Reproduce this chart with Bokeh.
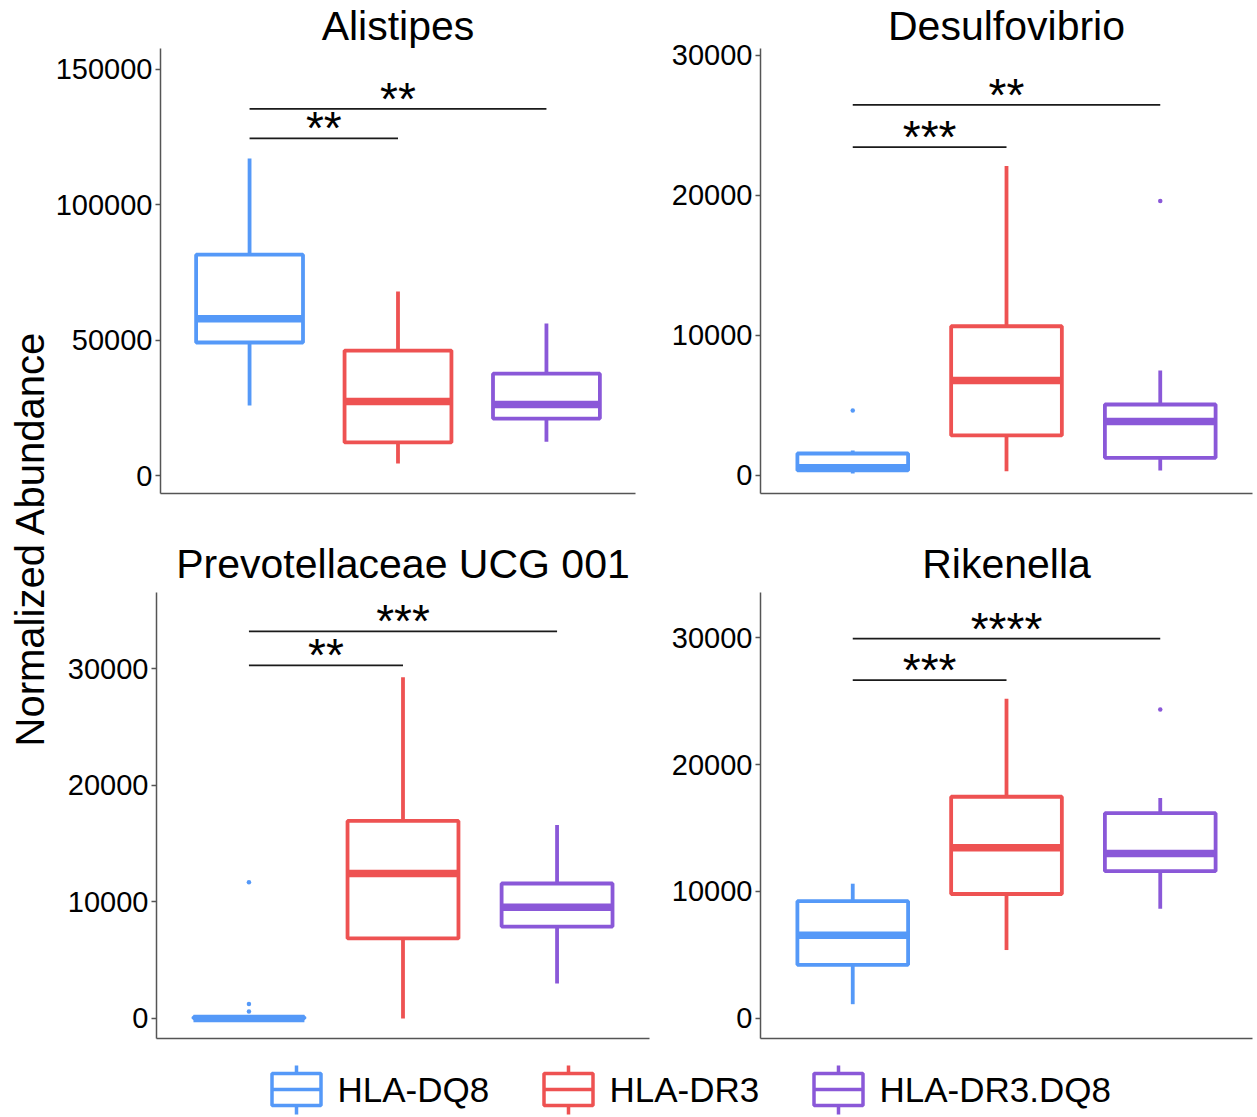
import math
from bokeh.plotting import figure
from bokeh.layouts import row, column
from bokeh.models import Range1d, FixedTicker, BasicTickFormatter, ColumnDataSource
from bokeh.core.properties import value
from bokeh.embed import file_html
from bokeh.resources import INLINE

# ---------------- data ----------------
groups = ["HLA-DQ8", "HLA-DR3", "HLA-DR3.DQ8"]
colors = ["#5599F8", "#EE5252", "#8A58D8"]
group_pos = [1, 2, 3]

titles = ["Alistipes", "Desulfovibrio", "Prevotellaceae UCG 001", "Rikenella"]

alistipes_lower = [25800, 4400, 12500]
alistipes_q1 = [49100, 12200, 21000]
alistipes_median = [57900, 27300, 26200]
alistipes_q3 = [81500, 46100, 37600]
alistipes_upper = [117000, 67900, 56100]
alistipes_outliers = [[], [], []]
alistipes_ticks = [0, 50000, 100000, 150000]
alistipes_yrange = [-6640, 157600]
alistipes_sig = [(1, 2, 124400, "**"), (1, 3, 135300, "**")]

desulfovibrio_lower = [140, 310, 360]
desulfovibrio_q1 = [360, 2860, 1260]
desulfovibrio_median = [550, 6790, 3860]
desulfovibrio_q3 = [1570, 10660, 5070]
desulfovibrio_upper = [1790, 22100, 7500]
desulfovibrio_outliers = [[4640], [], [19600]]
desulfovibrio_ticks = [0, 10000, 20000, 30000]
desulfovibrio_yrange = [-1286, 30500]
desulfovibrio_sig = [(1, 2, 23450, "***"), (1, 3, 26480, "**")]

prevotellaceae_lower = [0, 0, 3010]
prevotellaceae_q1 = [0, 6870, 7880]
prevotellaceae_median = [0, 12430, 9550]
prevotellaceae_q3 = [120, 16950, 11580]
prevotellaceae_upper = [250, 29280, 16590]
prevotellaceae_outliers = [[600, 1250, 11680], [], []]
prevotellaceae_ticks = [0, 10000, 20000, 30000]
prevotellaceae_yrange = [-1720, 36550]
prevotellaceae_sig = [(1, 2, 30290, "**"), (1, 3, 33210, "***")]

rikenella_lower = [1110, 5380, 8630]
rikenella_q1 = [4210, 9800, 11600]
rikenella_median = [6550, 13440, 12990]
rikenella_q3 = [9230, 17465, 16170]
rikenella_upper = [10610, 25190, 17375]
rikenella_outliers = [[], [], [24350]]
rikenella_ticks = [0, 10000, 20000, 30000]
rikenella_yrange = [-1595, 33570]
rikenella_sig = [(1, 2, 26660, "***"), (1, 3, 29940, "****")]

y_label = "Normalized Abundance"

# ---------------- style ----------------
FONT = "Liberation Sans"
BOX_W = 0.72
AXIS_COLOR = "#555555"

panel_data = [
    (alistipes_lower, alistipes_q1, alistipes_median, alistipes_q3, alistipes_upper,
     alistipes_outliers, alistipes_ticks, alistipes_yrange, alistipes_sig),
    (desulfovibrio_lower, desulfovibrio_q1, desulfovibrio_median, desulfovibrio_q3, desulfovibrio_upper,
     desulfovibrio_outliers, desulfovibrio_ticks, desulfovibrio_yrange, desulfovibrio_sig),
    (prevotellaceae_lower, prevotellaceae_q1, prevotellaceae_median, prevotellaceae_q3, prevotellaceae_upper,
     prevotellaceae_outliers, prevotellaceae_ticks, prevotellaceae_yrange, prevotellaceae_sig),
    (rikenella_lower, rikenella_q1, rikenella_median, rikenella_q3, rikenella_upper,
     rikenella_outliers, rikenella_ticks, rikenella_yrange, rikenella_sig),
]

# figure geometry: (width, height, border_left, border_right, border_top, border_bottom, title_standoff)
geometry = [
    (590, 520, 110, 5, 48, 27, 0),
    (617, 520, 120, 5, 48, 27, 0),
    (605, 525, 106, 6, 72, 7, 12),
    (602, 525, 105, 5, 72, 7, 12),
]


def make_panel(title, data, geo):
    lower, q1, med, q3, upper, outl, ticks, yr, sig = data
    w, h, bl, br, bt, bb, stand = geo
    p = figure(width=w, height=h, output_backend="svg", toolbar_location=None,
               x_range=Range1d(0.4, 3.6), y_range=Range1d(yr[0], yr[1]),
               min_border_left=bl, min_border_right=br, min_border_top=bt, min_border_bottom=bb)
    p.title.text = title
    p.title.text_font = FONT
    p.title.text_font_size = "41px"
    p.title.text_font_style = "normal"
    p.title.text_color = "black"
    p.title.align = "center"
    p.title.standoff = stand
    p.outline_line_color = None
    p.xgrid.visible = False
    p.ygrid.visible = False

    src = ColumnDataSource(dict(
        x=group_pos, left=[g - BOX_W / 2 for g in group_pos], right=[g + BOX_W / 2 for g in group_pos],
        lower=lower, q1=q1, med=med, q3=q3, upper=upper, color=colors))
    p.segment(x0="x", y0="q3", x1="x", y1="upper", line_color="color", line_width=3.8, source=src)
    p.segment(x0="x", y0="q1", x1="x", y1="lower", line_color="color", line_width=3.8, source=src)
    p.quad(left="left", right="right", bottom="q1", top="q3", fill_color="white",
           line_color="color", line_width=3.8, source=src)
    p.segment(x0="left", y0="med", x1="right", y1="med", line_color="color", line_width=7.5, source=src)

    ox, oy, oc = [], [], []
    for gx, vals, c in zip(group_pos, outl, colors):
        for v in vals:
            ox.append(gx); oy.append(v); oc.append(c)
    if ox:
        p.scatter(x=ox, y=oy, size=4.5, color=oc, line_color=None)

    # significance brackets
    sx0 = [s[0] for s in sig]; sx1 = [s[1] for s in sig]; sy = [s[2] for s in sig]
    p.segment(x0=sx0, y0=sy, x1=sx1, y1=sy, line_color="#1a1a1a", line_width=1.8)
    p.text(x=[(a + b) / 2 for a, b in zip(sx0, sx1)], y=sy, text=[s[3] for s in sig],
           text_font=value(FONT), text_font_size="46px", text_align="center",
           text_baseline="alphabetic", y_offset=-10, text_color="black")

    # axes
    p.yaxis.ticker = FixedTicker(ticks=ticks)
    p.yaxis.formatter = BasicTickFormatter(use_scientific=False)
    p.yaxis.major_label_text_font = FONT
    p.yaxis.major_label_text_font_size = "29px"
    p.yaxis.major_label_text_color = "black"
    p.yaxis.axis_line_color = AXIS_COLOR
    p.yaxis.axis_line_width = 1.5
    p.yaxis.major_tick_line_color = AXIS_COLOR
    p.yaxis.major_tick_line_width = 1.5
    p.yaxis.major_tick_out = 5
    p.yaxis.major_tick_in = 0
    p.yaxis.minor_tick_line_color = None
    p.yaxis.major_label_standoff = 3

    p.xaxis.ticker = FixedTicker(ticks=[])
    p.xaxis.axis_line_color = AXIS_COLOR
    p.xaxis.axis_line_width = 1.5
    p.xaxis.major_tick_line_color = None
    p.xaxis.minor_tick_line_color = None
    p.xaxis.major_tick_out = 0
    p.xaxis.major_tick_in = 0
    p.xaxis.major_label_standoff = 0
    p.xaxis.major_label_text_font_size = "0px"
    return p


panels = [make_panel(t, d, g) for t, d, g in zip(titles, panel_data, geometry)]

# y label column
ylab = figure(width=50, height=1045, output_backend="svg", toolbar_location=None,
              x_range=Range1d(0, 50), y_range=Range1d(1045, 0),
              x_axis_type=None, y_axis_type=None, min_border=0)
ylab.outline_line_color = None
ylab.grid.visible = False
ylab.text(x=[29], y=[538], text=[y_label], angle=math.pi / 2, text_font=value(FONT),
          text_font_size="40px", text_align="center", text_baseline="middle", text_color="black")

# legend strip
legend_key_x = [296, 568, 838]
legend_y = 44
leg = figure(width=1257, height=72, output_backend="svg", toolbar_location=None,
             x_range=Range1d(0, 1257), y_range=Range1d(72, 0),
             x_axis_type=None, y_axis_type=None, min_border=0)
leg.outline_line_color = None
leg.grid.visible = False
leg.segment(x0=legend_key_x, y0=[legend_y - 24] * 3, x1=legend_key_x, y1=[legend_y + 25] * 3,
            line_color=colors, line_width=3.5)
leg.rect(x=legend_key_x, y=[legend_y] * 3, width=49, height=32, fill_color="white",
         line_color=colors, line_width=3.5)
leg.segment(x0=[k - 24.5 for k in legend_key_x], y0=[legend_y] * 3,
            x1=[k + 24.5 for k in legend_key_x], y1=[legend_y] * 3, line_color=colors, line_width=3.5)
leg.text(x=[k + 41 for k in legend_key_x], y=[legend_y] * 3, text=groups, text_font=value(FONT),
         text_font_size="35px", text_align="left", text_baseline="middle", text_color="black")

layout = column(row(ylab, column(row(panels[0], panels[1]), row(panels[2], panels[3]))), leg)

open("out.html", "w").write(file_html(layout, INLINE))
